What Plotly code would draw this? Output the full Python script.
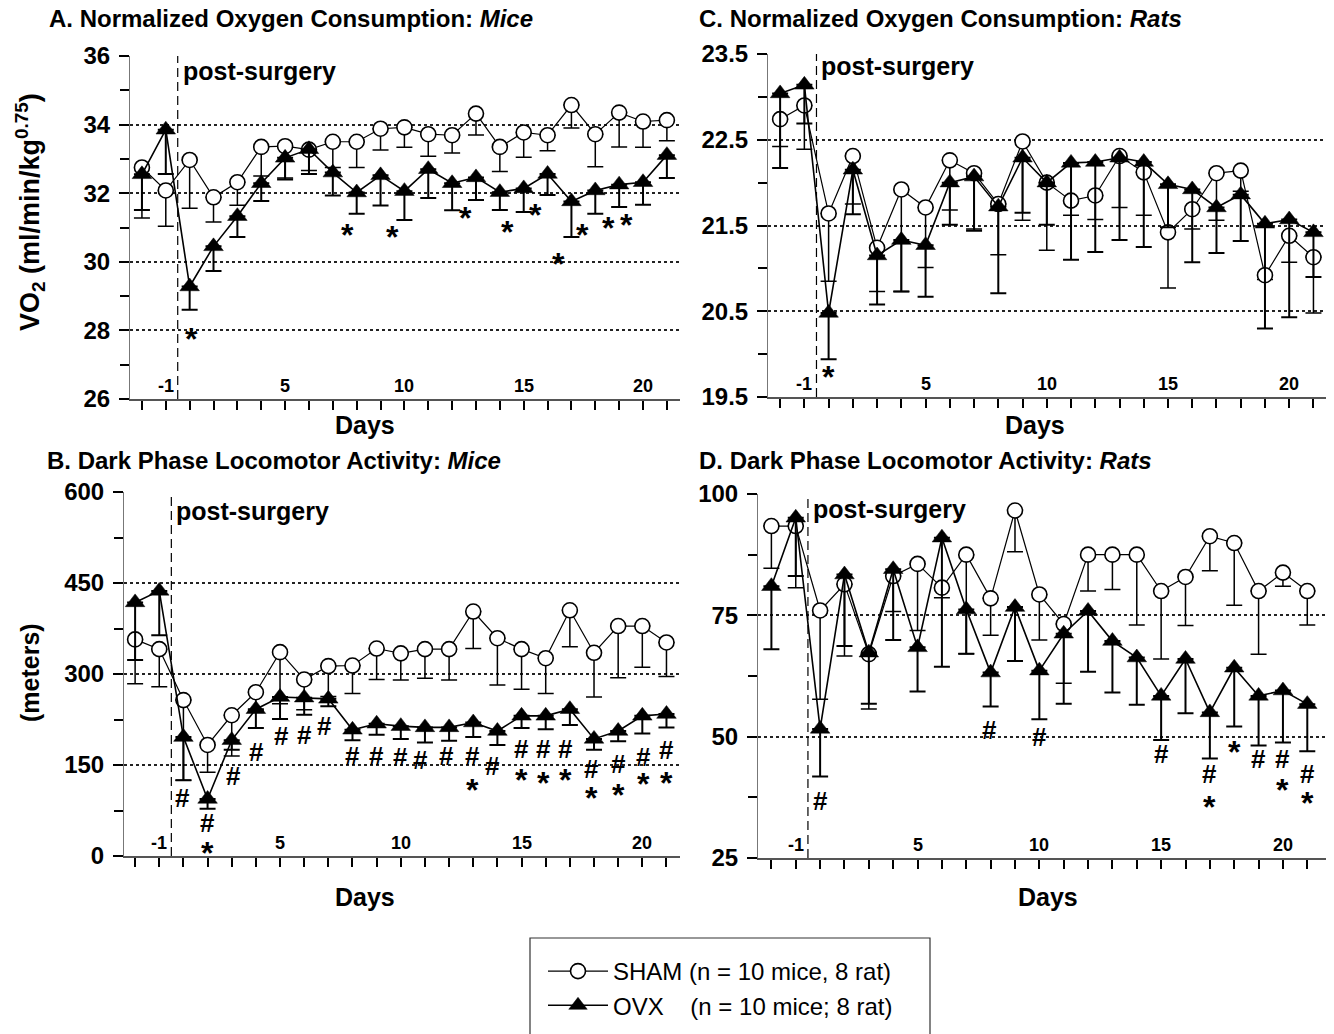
import plotly.graph_objects as go

W, H = 1334, 1034          # target picture size
OFF = 8                    # page body margin added by the browser
FW, FH = W - OFF, H - OFF  # figure size that fills the rest of the window
FONT = "Liberation Sans, Arial, Helvetica, sans-serif"

# ---------------- data ----------------
days = [-2, -1] + list(range(1, 22))
labelled_days = [-1, 5, 10, 15, 20]

# A. Normalized oxygen consumption, mice (ml/min/kg^0.75)
a_sham = [32.75, 32.08, 32.97, 31.88, 32.32, 33.35, 33.37, 33.27, 33.50, 33.50, 33.88, 33.92,
          33.72, 33.69, 34.32, 33.35, 33.77, 33.69, 34.57, 33.72, 34.35, 34.09, 34.13]
a_sham_sem = [1.47, 1.04, 1.41, 0.72, 0.67, 0.85, 0.93, 0.61, 0.75, 0.75, 0.62, 0.58,
              0.64, 0.52, 0.62, 0.72, 0.72, 0.45, 0.67, 0.95, 1.00, 0.75, 0.60]
a_ovx = [32.55, 33.85, 29.28, 30.45, 31.33, 32.29, 33.03, 33.28, 32.60, 32.02, 32.52, 32.06,
         32.70, 32.29, 32.46, 32.03, 32.14, 32.56, 31.76, 32.08, 32.25, 32.32, 33.11]
a_ovx_sem = [1.04, 1.29, 0.68, 0.72, 0.61, 0.52, 0.63, 0.72, 0.67, 0.62, 0.88, 0.84,
             0.84, 0.79, 0.66, 0.52, 0.69, 0.61, 1.04, 0.68, 0.65, 0.66, 0.67]
a_sig_x = [2.08, 8.6, 10.5, 13.55, 15.33, 16.5, 17.45, 18.45, 19.55, 20.3]
a_sig_y = [27.92, 30.95, 30.9, 31.45, 31.04, 31.54, 30.12, 30.96, 31.15, 31.26]
a_sig_t = ["*"] * 10

# B. Dark phase locomotor activity, mice (meters)
b_sham = [357, 341, 257, 183, 232, 270, 336, 291, 313, 314, 342, 334,
          341, 341, 403, 359, 341, 326, 405, 335, 379, 379, 352]
b_sham_sem = [73, 62, 132, 45, 67, 30, 85, 50, 50, 46, 51, 44,
              48, 51, 61, 77, 66, 58, 60, 73, 85, 68, 56]
b_ovx = [418, 437, 196, 94, 191, 242, 262, 261, 259, 208, 218, 214,
         212, 212, 220, 206, 231, 231, 242, 193, 206, 231, 234]
b_ovx_sem = [95, 73, 71, 16, 16, 31, 36, 28, 12, 17, 18, 21,
             25, 22, 24, 23, 20, 22, 26, 18, 17, 29, 22]
b_sig_x = [1.95, 3, 3, 4.07, 5.03, 6.05, 7.03, 7.85, 9, 10, 11, 11.8, 12.9, 13.95, 13.95,
           14.8, 16, 16, 16.9, 16.9, 17.8, 17.8, 18.9, 18.9, 20, 20, 21.05, 21.05, 22, 22]
b_sig_y = [95, 55, 15, 132, 172, 198, 199, 214, 165, 165, 163, 158, 165, 165, 119,
           149, 176, 135, 176, 131, 176, 135, 143, 105, 152, 111, 164, 129, 174, 131]
b_sig_t = ["#", "#", "*", "#", "#", "#", "#", "#", "#", "#", "#", "#", "#", "#", "*",
           "#", "#", "*", "#", "*", "#", "*", "#", "*", "#", "*", "#", "*", "#", "*"]

# C. Normalized oxygen consumption, rats
c_sham = [22.74, 22.90, 21.64, 22.31, 21.24, 21.92, 21.71, 22.26, 22.11, 21.75, 22.48, 22.00,
          21.79, 21.85, 22.31, 22.12, 21.42, 21.69, 22.11, 22.14, 20.92, 21.38, 21.13]
c_sham_sem = [0.32, 0.51, 0.79, 0.56, 0.51, 1.19, 0.70, 0.58, 0.65, 0.59, 0.92, 0.79,
              0.17, 0.28, 0.60, 0.50, 0.65, 0.23, 0.55, 0.24, 0.05, 0.31, 0.65]
c_ovx = [23.04, 23.14, 20.48, 22.15, 21.15, 21.33, 21.27, 22.00, 22.07, 21.72, 22.29, 22.00,
         22.23, 22.24, 22.29, 22.24, 21.98, 21.92, 21.71, 21.86, 21.52, 21.57, 21.42]
c_ovx_sem = [0.87, 0.45, 0.54, 0.52, 0.57, 0.60, 0.60, 0.49, 0.63, 1.01, 0.64, 0.49,
             1.13, 1.05, 0.96, 0.99, 0.50, 0.85, 0.53, 0.54, 1.22, 1.14, 0.52]
c_sig_x = [2]
c_sig_y = [19.8]
c_sig_t = ["*"]

# D. Dark phase locomotor activity, rats
d_sham = [93.4, 93.4, 76.0, 81.4, 67.0, 83.1, 85.6, 80.7, 87.5, 78.5, 96.6, 79.3,
          73.2, 87.5, 87.5, 87.5, 80.0, 82.9, 91.3, 89.9, 80.0, 83.8, 80.0]
d_sham_sem = [8.7, 12.7, 18.3, 14.8, 11.3, 7.3, 13.7, 2.1, 20.4, 7.6, 8.5, 9.4,
              12.2, 7.5, 7.2, 14.5, 14.0, 10.0, 7.1, 12.8, 13.0, 2.8, 7.0]
d_ovx = [81.0, 95.1, 51.6, 83.4, 67.3, 84.5, 68.4, 91.0, 76.2, 63.2, 76.7, 63.6,
         71.2, 75.9, 69.7, 66.3, 58.4, 66.0, 55.0, 64.2, 58.4, 59.5, 56.7]
d_ovx_sem = [13.0, 12.0, 9.8, 14.7, 10.5, 14.6, 9.1, 26.6, 9.1, 7.0, 11.1, 10.0,
             14.4, 12.5, 10.6, 9.7, 9.1, 11.2, 9.5, 12.1, 10.2, 10.7, 9.7]
d_sig_x = [2, 8.95, 11, 16, 18, 18, 19, 20, 21, 21, 22, 22]
d_sig_y = [36.8, 51.4, 50.0, 46.4, 42.3, 36.8, 48.1, 45.4, 45.4, 40.3, 42.3, 37.5]
d_sig_t = ["#", "#", "#", "#", "#", "*", "*", "#", "#", "*", "#", "*"]

titles = ["A. Normalized Oxygen Consumption: <i>Mice</i>",
          "B. Dark Phase Locomotor Activity: <i>Mice</i>",
          "C. Normalized Oxygen Consumption: <i>Rats</i>",
          "D. Dark Phase Locomotor Activity: <i>Rats</i>"]
sham_name = "SHAM (n = 10 mice, 8 rat)"
ovx_name = "OVX\u00a0\u00a0\u00a0\u00a0(n = 10 mice; 8 rat)"

# ---------------- layout helpers ----------------
def px(xp):
    return (xp - OFF) / FW

def py(yp):
    return 1 - (yp - OFF) / FH

idx = list(range(len(days)))
label_pos = [i for i, d in enumerate(days) if d in labelled_days]
label_txt = [str(days[i]) for i in label_pos]

panels = [
    dict(sh=a_sham, shs=a_sham_sem, ov=a_ovx, ovs=a_ovx_sem, sx=a_sig_x, sy=a_sig_y, st=a_sig_t,
         xd=(130, 680), yd=(399, 56), xr=(-0.5, 22.55), yr=(26, 36), dt=2, mn=1, fmt="d",
         title_xy=(47, 18), days_xy=(365, 425), ps_y=0.956),
    dict(sh=b_sham, shs=b_sham_sem, ov=b_ovx, ovs=b_ovx_sem, sx=b_sig_x, sy=b_sig_y, st=b_sig_t,
         xd=(124, 680), yd=(856, 492), xr=(-0.46, 22.56), yr=(0, 600), dt=150, mn=75, fmt="d",
         title_xy=(45, 460), days_xy=(365, 897), ps_y=0.948),
    dict(sh=c_sham, shs=c_sham_sem, ov=c_ovx, ovs=c_ovx_sem, sx=c_sig_x, sy=c_sig_y, st=c_sig_t,
         xd=(768, 1328), yd=(397, 54), xr=(-0.5, 22.6), yr=(19.5, 23.5), dt=1, mn=0.5, fmt=".1f",
         title_xy=(697, 18), days_xy=(1035, 425), ps_y=0.966),
    dict(sh=d_sham, shs=d_sham_sem, ov=d_ovx, ovs=d_ovx_sem, sx=d_sig_x, sy=d_sig_y, st=d_sig_t,
         xd=(758, 1328), yd=(858, 494), xr=(-0.55, 22.85), yr=(25, 100), dt=25, mn=12.5, fmt="d",
         title_xy=(697, 460), days_xy=(1048, 897), ps_y=0.958),
]

fig = go.Figure()
annotations = []
shapes = []
layout_axes = {}

for i, p in enumerate(panels):
    n = i + 1
    xa = "x" if n == 1 else f"x{n}"
    ya = "y" if n == 1 else f"y{n}"
    xkey = "xaxis" if n == 1 else f"xaxis{n}"
    ykey = "yaxis" if n == 1 else f"yaxis{n}"

    fig.add_trace(go.Scatter(
        x=idx, y=p["sh"], mode="lines+markers", name=sham_name, showlegend=(n == 1),
        line=dict(color="black", width=1.2),
        marker=dict(symbol="circle", size=15, color="white", line=dict(color="black", width=1.6)),
        error_y=dict(type="data", symmetric=False, array=[0] * len(idx), arrayminus=p["shs"],
                     color="black", thickness=1.5, width=8),
        xaxis=xa, yaxis=ya, hoverinfo="skip"))
    fig.add_trace(go.Scatter(
        x=idx, y=p["ov"], mode="lines+markers", name=ovx_name, showlegend=(n == 1),
        line=dict(color="black", width=1.6),
        marker=dict(symbol="triangle-up", size=17, color="black", line=dict(color="black", width=0.5)),
        error_y=dict(type="data", symmetric=False, array=[0] * len(idx), arrayminus=p["ovs"],
                     color="black", thickness=2, width=8),
        xaxis=xa, yaxis=ya, hoverinfo="skip"))

    layout_axes[xkey] = dict(
        domain=[px(p["xd"][0]), px(p["xd"][1])], range=list(p["xr"]), anchor=ya,
        tickmode="array", tickvals=idx, showticklabels=False,
        ticks="outside", ticklen=9, tickwidth=2, tickcolor="black",
        showline=True, linecolor="#555", linewidth=1.5, showgrid=False, zeroline=False,
        automargin=False)
    layout_axes[ykey] = dict(
        domain=[py(p["yd"][0]), py(p["yd"][1])], range=list(p["yr"]), anchor=xa,
        tickmode="linear", tick0=p["yr"][0], dtick=p["dt"], tickformat=p["fmt"],
        ticks="outside", ticklen=10, tickwidth=2, tickcolor="black",
        ticklabelstandoff=4,
        tickfont=dict(family=FONT, size=24, color="black", weight="bold"),
        minor=dict(ticks="outside", ticklen=9, tickwidth=2, tickcolor="black",
                   dtick=p["mn"], showgrid=False),
        showline=True, linecolor="#777", linewidth=1,
        showgrid=True, gridcolor="#222", gridwidth=1.5, griddash="dot", zeroline=False,
        automargin=False)

    # day labels sit just above the axis line, inside the plot
    for lp, lt in zip(label_pos, label_txt):
        annotations.append(dict(xref=xa, yref=f"{ya} domain", x=lp, y=0, xanchor="center",
                                yanchor="bottom", yshift=1, showarrow=False, text=f"<b>{lt}</b>",
                                font=dict(family=FONT, size=18, color="black")))

    # surgery marker line
    shapes.append(dict(type="line", xref=xa, yref=f"{ya} domain", x0=1.5, x1=1.5, y0=0, y1=1,
                       line=dict(color="black", width=1.2, dash="9px,5px")))
    annotations.append(dict(xref=xa, yref=f"{ya} domain", x=1.5, y=p["ps_y"], xanchor="left",
                            yanchor="middle", xshift=3, showarrow=False, text="<b>post-surgery</b>",
                            font=dict(family=FONT, size=25, color="black")))
    # significance marks
    for sx, sy, st in zip(p["sx"], p["sy"], p["st"]):
        star = st == "*"
        annotations.append(dict(xref=xa, yref=ya, x=sx, y=sy, text=f"<b>{st}</b>", showarrow=False,
                                xanchor="center", yanchor="middle", yshift=(-6 if star else 0),
                                font=dict(family=FONT, size=(32 if star else 26), color="black")))
    # panel title
    annotations.append(dict(xref="paper", yref="paper", x=px(p["title_xy"][0]), y=py(p["title_xy"][1]),
                            xanchor="left", yanchor="middle", showarrow=False,
                            text=f"<b>{titles[i]}</b>",
                            font=dict(family=FONT, size=24, color="black")))
    # x axis title
    annotations.append(dict(xref="paper", yref="paper", x=px(p["days_xy"][0]), y=py(p["days_xy"][1]),
                            xanchor="center", yanchor="middle", showarrow=False, text="<b>Days</b>",
                            font=dict(family=FONT, size=25, color="black")))

# y axis titles
annotations.append(dict(xref="paper", yref="paper", x=px(30), y=py(212), textangle=-90,
                        xanchor="center", yanchor="middle", showarrow=False,
                        text="<b>VO<sub>2</sub> (ml/min/kg<sup>0.75</sup>)</b>",
                        font=dict(family=FONT, size=27, color="black")))
annotations.append(dict(xref="paper", yref="paper", x=px(30), y=py(673), textangle=-90,
                        xanchor="center", yanchor="middle", showarrow=False,
                        text="<b>(meters)</b>",
                        font=dict(family=FONT, size=25, color="black")))

# legend frame
shapes.append(dict(type="rect", xref="paper", yref="paper", x0=px(530), x1=px(930),
                   y0=py(1045), y1=py(938), line=dict(color="#333", width=1.2)))

fig.update_layout(
    width=FW, height=FH, margin=dict(l=0, r=0, t=0, b=0, autoexpand=False),
    paper_bgcolor="white", plot_bgcolor="white",
    font=dict(family=FONT, color="black"),
    showlegend=True,
    legend=dict(x=px(543), y=py(949), xanchor="left", yanchor="top",
                font=dict(family=FONT, size=24, color="black"),
                bgcolor="rgba(0,0,0,0)", borderwidth=0, itemwidth=60, tracegroupgap=0,
                traceorder="normal"),
    annotations=annotations, shapes=shapes,
    **layout_axes)

fig.write_html("out.html")
